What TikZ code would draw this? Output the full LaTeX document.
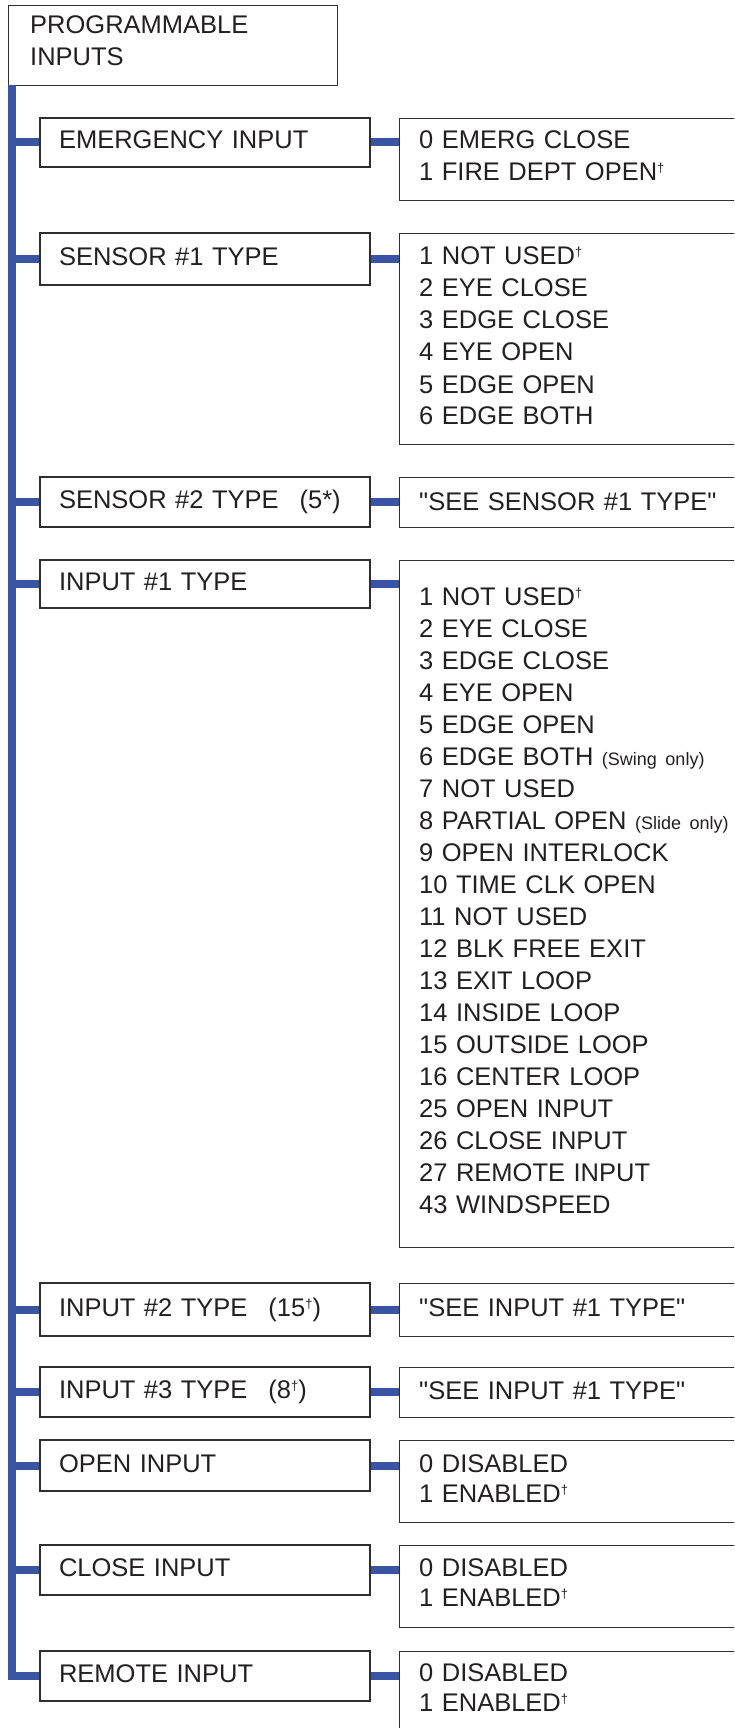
\documentclass[tikz,border=0pt]{standalone}
\usepackage{fontspec}
\setmainfont{Liberation Sans}
\newfontfamily\plainsans{Liberation Sans}
\definecolor{trunkblue}{HTML}{3A54A4}
\definecolor{boxline}{HTML}{2E2E2E}
\definecolor{ink}{HTML}{231F20}
\newcommand\dg{\raisebox{8pt}{\fontsize{13}{13}\selectfont †}}
\newcommand\smallnote[1]{{\fontsize{18}{18}\selectfont #1}}
\begin{document}
\begin{tikzpicture}[x=1pt,y=-1pt,
  every node/.style={font=\plainsans\fontsize{25.5}{32}\selectfont, text=ink},
  lbox/.style={draw=boxline, line width=1.3pt, minimum width=330pt, text width=292pt,
    inner xsep=19pt, inner ysep=0pt, align=left, text height=18.3pt, text depth=5.3pt},
  rbox/.style={draw=boxline, line width=1.3pt, minimum width=420pt, anchor=north west, inner sep=0pt},
  rtext/.style={anchor=base west, inner sep=0pt, text width=320pt, align=left},
  tightlines/.style={font=\plainsans\fontsize{25.5}{30.5}\selectfont},
  trunk/.style={draw=trunkblue, line width=8pt, line join=miter},
  stub/.style={draw=trunkblue, line width=8pt},
]
\useasboundingbox (0,0) rectangle (734,1728);
\clip (0,0) rectangle (734,1728);

% title box
\node[draw=boxline, line width=1.3pt, minimum width=329pt, minimum height=80pt,
  anchor=north west, inner sep=0pt] (top) at (8,5) {};
\node[rtext] (toptext) at (30,33.3) {PROGRAMMABLE\\INPUTS};

% left boxes
\node[lbox, minimum height=49pt] (emerg) at (205,142.5) {EMERGENCY INPUT};
\node[lbox, minimum height=52pt] (s1) at (205,259) {SENSOR \#1 TYPE};
\node[lbox, minimum height=50pt] (s2) at (205,502) {SENSOR \#2 TYPE\hspace{21pt}(5*)};
\node[lbox, minimum height=48pt] (i1) at (205,584) {INPUT \#1 TYPE};
\node[lbox, minimum height=53pt] (i2) at (205,1309.5) {INPUT \#2 TYPE\hspace{21pt}(15\dg)};
\node[lbox, minimum height=50pt] (i3) at (205,1392) {INPUT \#3 TYPE\hspace{21pt}(8\dg)};
\node[lbox, minimum height=51pt] (op) at (205,1465.5) {OPEN INPUT};
\node[lbox, minimum height=50pt] (cl) at (205,1570) {CLOSE INPUT};
\node[lbox, minimum height=50pt] (rm) at (205,1676) {REMOTE INPUT};

% right boxes
\node[rbox, minimum height=82pt] (emergR) at (398.5,118) {};
\node[rbox, minimum height=211pt] (s1R) at (398.5,233) {};
\node[rbox, minimum height=50pt] (s2R) at (398.5,477) {};
\node[rbox, minimum height=687pt] (i1R) at (398.5,559.5) {};
\node[rbox, minimum height=53pt] (i2R) at (398.5,1283) {};
\node[rbox, minimum height=50pt] (i3R) at (398.5,1367) {};
\node[rbox, minimum height=82pt] (opR) at (398.5,1440) {};
\node[rbox, minimum height=82pt] (clR) at (398.5,1545) {};
\node[rbox, minimum height=90pt] (rmR) at (398.5,1651) {};

% right texts
\node[rtext] (emergT) at (419,149) {0 EMERG CLOSE\\1 FIRE DEPT OPEN\dg};
\node[rtext] (s1T) at (419,265) {1 NOT USED\dg\\2 EYE CLOSE\\3 EDGE CLOSE\\4 EYE OPEN\\5 EDGE OPEN\\6 EDGE BOTH};
\node[rtext] (s2T) at (419,510) {"SEE SENSOR \#1 TYPE"};
\node[rtext] (i1T) at (419,605) {1 NOT USED\dg\\2 EYE CLOSE\\3 EDGE CLOSE\\4 EYE OPEN\\5 EDGE OPEN\\
6 EDGE BOTH \smallnote{(Swing only)}\\7 NOT USED\\8 PARTIAL OPEN \smallnote{(Slide only)}\\
9 OPEN INTERLOCK\\10 TIME CLK OPEN\\11 NOT USED\\12 BLK FREE EXIT\\13 EXIT LOOP\\
14 INSIDE LOOP\\15 OUTSIDE LOOP\\16 CENTER LOOP\\25 OPEN INPUT\\26 CLOSE INPUT\\
27 REMOTE INPUT\\43 WINDSPEED};
\node[rtext] (i2T) at (419,1316) {"SEE INPUT \#1 TYPE"};
\node[rtext] (i3T) at (419,1399) {"SEE INPUT \#1 TYPE"};
\node[rtext, tightlines] (opT) at (419,1472) {0 DISABLED\\1 ENABLED\dg};
\node[rtext, tightlines] (clT) at (419,1576) {0 DISABLED\\1 ENABLED\dg};
\node[rtext, tightlines] (rmT) at (419,1681) {0 DISABLED\\1 ENABLED\dg};

% trunk and connectors
\coordinate (tt) at (12,85);
\draw[trunk] (tt) |- (rm.west);
\foreach \n in {emerg,s1,s2,i1,i2,i3,op,cl}
  \draw[stub] (\n.west) -- (\n.west -| tt);
\foreach \n in {emerg,s1,s2,i1,i2,i3,op,cl,rm}
  \draw[stub] (\n.east) -- (\n R.west |- \n.east);
\end{tikzpicture}
\end{document}
